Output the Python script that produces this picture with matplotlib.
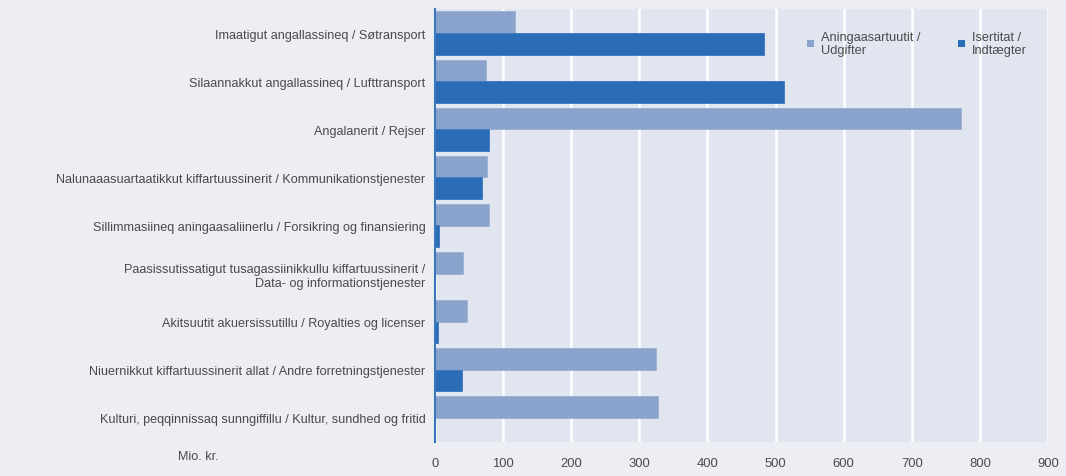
import matplotlib
matplotlib.use("Agg")
import matplotlib.pyplot as plt
import numpy as np
from matplotlib.patches import Patch

categories = [
    "Imaatigut angallassineq / Søtransport",
    "Silaannakkut angallassineq / Lufttransport",
    "Angalanerit / Rejser",
    "Nalunaaasuartaatikkut kiffartuussinerit / Kommunikationstjenester",
    "Sillimmasiineq aningaasaliinerlu / Forsikring og finansiering",
    "Paasissutissatigut tusagassiinikkullu kiffartuussinerit /\nData- og informationstjenester",
    "Akitsuutit akuersissutillu / Royalties og licenser",
    "Niuernikkut kiffartuussinerit allat / Andre forretningstjenester",
    "Kulturi, peqqinnissaq sunngiffillu / Kultur, sundhed og fritid",
]
udgifter = [117, 75, 772, 76, 80, 41, 47, 324, 327]
indtaegter = [483, 513, 79, 69, 6, 0, 5, 39, 0]
series_names = ["Aningaasartuutit /\nUdgifter", "Isertitat /\nIndtægter"]
xticks = [0, 100, 200, 300, 400, 500, 600, 700, 800, 900]

light = "#8aa3cc"
dark = "#2a6cb6"
fig_bg = "#eceef4"
ax_bg = "#e1e5f0"
txt = "#4a4a4a"

plt.rcParams["font.family"] = ["Liberation Sans", "DejaVu Sans"]

fig = plt.figure(figsize=(10.66, 4.77), dpi=100, facecolor=fig_bg)
ax = fig.add_axes([435/1066, 1-443/477, (1048-435)/1066, (443-10)/477])
ax.set_facecolor(ax_bg)

y = np.arange(len(categories))
h = 0.45
ax.barh(y - h/2, udgifter, height=h, color=light, edgecolor="#9bb0d4", linewidth=0.6, zorder=3)
ax.barh(y + h/2, indtaegter, height=h, color=dark, edgecolor="#3a78bd", linewidth=0.6, zorder=3)

ax.set_ylim(len(categories) - 0.5, -0.5)
ax.set_xlim(0, 900)
ax.set_xticks(xticks)
ax.set_xticklabels([str(v) for v in xticks])
ax.set_yticks(y)
ax.set_yticklabels(categories, ha="right", multialignment="right")

ax.tick_params(axis="y", length=0, pad=7, labelsize=9.1, labelcolor=txt)
ax.tick_params(axis="x", length=0, pad=11, labelsize=9.4, labelcolor=txt)
ax.grid(axis="x", color="white", linewidth=1.8, zorder=1)
ax.set_axisbelow(True)
for s in ["top", "right", "bottom"]:
    ax.spines[s].set_visible(False)
ax.spines["left"].set_color("#3a78bd")
ax.spines["left"].set_linewidth(1.5)
ax.spines["left"].set_zorder(4)

fig.text(198/1066, 1-457/477, "Mio. kr.", ha="center", va="center", fontsize=9.1, color=txt)

handles = [Patch(facecolor=light, edgecolor="none"), Patch(facecolor=dark, edgecolor="none")]
leg = fig.legend(handles, series_names, loc="upper left", bbox_to_anchor=(802/1066, 1-27/477),
                 ncol=2, frameon=False, fontsize=9.2, handlelength=0.55, handleheight=0.55,
                 handletextpad=0.5, columnspacing=3.0, borderaxespad=0, labelcolor=txt)
for t in leg.get_texts():
    t.set_linespacing(1.1)

fig.savefig("out.png", dpi=100, facecolor=fig_bg)
